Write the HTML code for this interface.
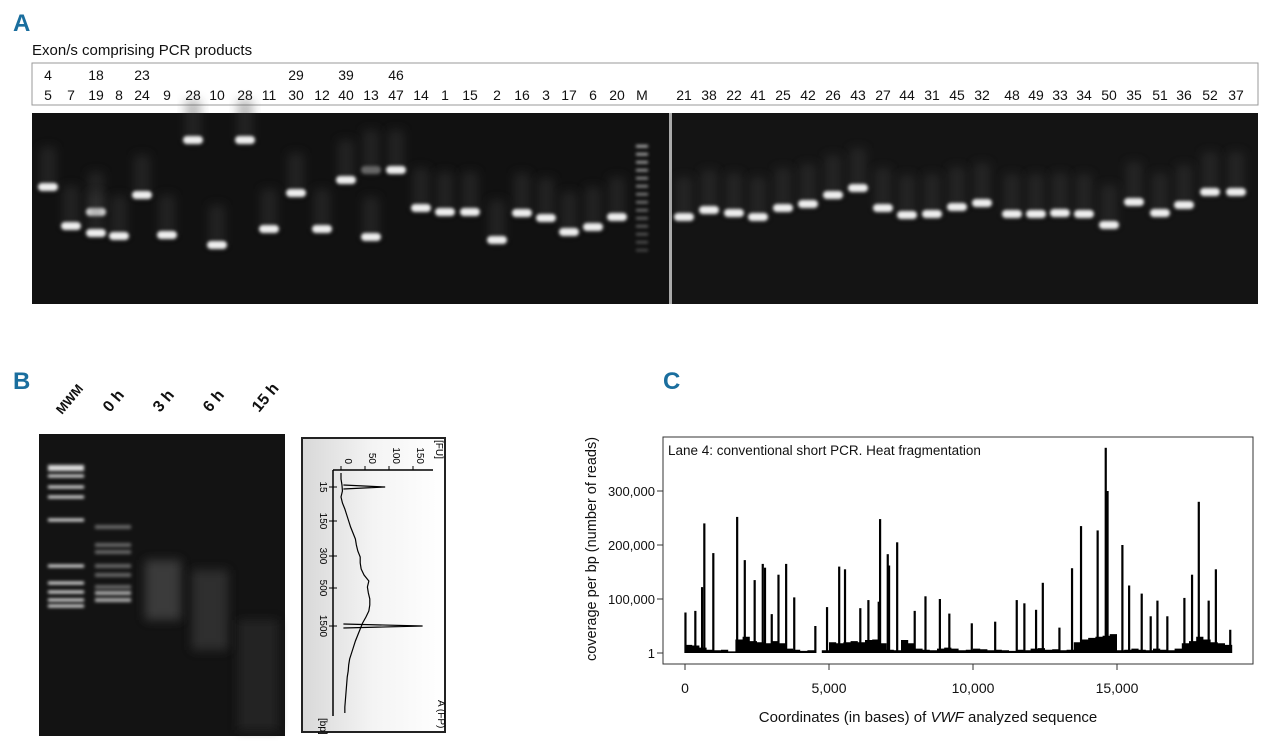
<!DOCTYPE html>
<html><head><meta charset="utf-8"><style>
body{margin:0;width:1280px;height:748px;background:#fff;overflow:hidden;font-family:"Liberation Sans",sans-serif}
svg{position:absolute;left:0;top:0}
</style></head><body>
<svg id="s" width="1280" height="748" viewBox="0 0 1280 748">
<defs>
<filter id="bl" x="-50%" y="-200%" width="200%" height="500%"><feGaussianBlur stdDeviation="1.6"/></filter>
<filter id="bl2" x="-50%" y="-50%" width="200%" height="200%"><feGaussianBlur stdDeviation="5"/></filter>
<linearGradient id="bag" x1="0" x2="1"><stop offset="0" stop-color="#d8d8d8"/><stop offset="0.5" stop-color="#f4f4f4"/><stop offset="1" stop-color="#fff"/></linearGradient>
</defs>
<text x="13" y="31" font-size="24" font-weight="bold" fill="#1a6e9e">A</text>
<text x="32" y="55" font-size="15" fill="#111">Exon/s comprising PCR products</text>
<rect x="32" y="63" width="1226" height="42" fill="#fff" stroke="#999"/>
<g id="lanelabels" font-size="14" fill="#111" text-anchor="middle"></g>
<rect x="32" y="113" width="637" height="191" fill="#111"/>
<rect x="669" y="113" width="3" height="191" fill="#aaa"/>
<rect x="672" y="113" width="586" height="191" fill="#141414"/>
<g id="bands"></g>

<text x="13" y="389" font-size="24" font-weight="bold" fill="#1a6e9e">B</text>
<g font-size="13" font-weight="bold" fill="#111">
<text transform="translate(62,415) rotate(-50)">MWM</text>
<text transform="translate(110,413) rotate(-50)" font-size="16">0 h</text>
<text transform="translate(160,413) rotate(-50)" font-size="16">3 h</text>
<text transform="translate(210,413) rotate(-50)" font-size="16">6 h</text>
<text transform="translate(259,413) rotate(-50)" font-size="16">15 h</text>
</g>
<rect x="39" y="434" width="246" height="302" fill="#131313"/>
<g id="bgel"></g>
<rect x="302" y="438" width="143" height="294" fill="url(#bag)" stroke="#222" stroke-width="2"/>
<g id="bio"></g>

<text x="663" y="389" font-size="24" font-weight="bold" fill="#1a6e9e">C</text>
<rect x="663" y="437" width="590" height="227" fill="#fff" stroke="#333"/>
<text x="668" y="455" font-size="13.5" fill="#111">Lane 4: conventional short PCR. Heat fragmentation</text>
<g id="cov"></g>
<g id="axes" font-size="13" fill="#111"></g>
<text transform="translate(596,549) rotate(-90)" text-anchor="middle" font-size="14.5" fill="#111">coverage per bp (number of reads)</text>
<text x="928" y="722" text-anchor="middle" font-size="15" fill="#111">Coordinates (in bases) of <tspan font-style="italic">VWF</tspan> analyzed sequence</text>
</svg>
<script>
const NS='http://www.w3.org/2000/svg';
function mk(p,t,a){const e=document.createElementNS(NS,t);for(const k in a)e.setAttribute(k,a[k]);p.appendChild(e);return e;}
// Panel A data
const laneTop=['4','','18','','23','','','','','','29','','39','','46','','','','','','','','','','','','','','','','','','','','','','','','','','','','','','','','',''];
const laneBot=['5','7','19','8','24','9','28','10','28','11','30','12','40','13','47','14','1','15','2','16','3','17','6','20','M','21','38','22','41','25','42','26','43','27','44','31','45','32','48','49','33','34','50','35','51','36','52','37'];
const laneX=[48,71,96,119,142,167,193,217,245,269,296,322,346,371,396,421,445,470,497,522,546,569,593,617,642,684,709,734,758,783,808,833,858,883,907,932,957,982,1012,1036,1060,1084,1109,1134,1160,1184,1210,1236];
const bandY=[[187],[226],[212,233],[236],[195],[235],[140],[245],[140],[229],[193],[229],[180],[237,170],[170],[208],[212],[212],[240],[213],[218],[232],[227],[217],null,[217],[210],[213],[217],[208],[204],[195],[188],[208],[215],[214],[207],[203],[214],[214],[213],[214],[225],[202],[213],[205],[192],[192]];
const ll=document.getElementById('lanelabels');
laneBot.forEach((l,i)=>{const t=mk(ll,'text',{x:laneX[i],y:100});t.textContent=l;
 
 if(laneTop[i]){const u=mk(ll,'text',{x:laneX[i],y:80});u.textContent=laneTop[i];}});
const bg=document.getElementById('bands');
bandY.forEach((ys,i)=>{const x=laneX[i];
 if(!ys){for(let k=0;k<14;k++){const r=mk(bg,'rect',{x:x-6,y:145+k*8,width:12,height:2.5,fill:'#bbb',filter:'url(#bl)',opacity:1-k*0.05});}return;}
 ys.forEach((y,j)=>{mk(bg,'rect',{x:x-8,y:y-40,width:16,height:40,fill:'#444',opacity:0.35,filter:'url(#bl2)'});
  const r=mk(bg,'rect',{x:x-10,y:y-4,width:20,height:8,rx:4,fill:(i===13&&j===1)?'#666':'#eee',filter:'url(#bl)'});
  });});
// Panel B gel
const mwmY=[468,476,487,497,520,566,583,592,600,606];
const h0Y=[527,545,552,566,575,587,593,600];
const gb=document.getElementById('bgel');
mwmY.forEach((y,i)=>{const r=mk(gb,'rect',{x:48,y:y-(i==0?3:1.5),width:36,height:i==0?6:3,fill:'#ddd',filter:'url(#bl)'});});
h0Y.forEach((y,i)=>{const r=mk(gb,'rect',{x:95,y:y-2,width:36,height:4,fill:i>5?'#aaa':'#666',filter:'url(#bl)'});});
mk(gb,'rect',{x:145,y:560,width:36,height:60,fill:'#444',filter:'url(#bl2)',opacity:0.8});
mk(gb,'rect',{x:192,y:570,width:36,height:80,fill:'#3a3a3a',filter:'url(#bl2)',opacity:0.7});
mk(gb,'rect',{x:238,y:620,width:40,height:110,fill:'#2c2c2c',filter:'url(#bl2)',opacity:0.7});
// Bioanalyzer
const bioFU=[0,0,2,3,0,3,8,12,16,20,25,30,32,35,40,40,42,48,58,55,57,60,60,58,52,45,40,35,30,26,22,18,16,15,13,12,11,10,9,8,8];
const bioSpikes=[[487,92],[626,170]];
const fuX=v=>341+v*0.48, bioTop=473, bioStep=6;
const bio=document.getElementById('bio');
mk(bio,'line',{x1:333,y1:470,x2:333,y2:716,stroke:'#000','stroke-width':1.5});
mk(bio,'line',{x1:333,y1:470,x2:433,y2:470,stroke:'#000','stroke-width':1.5});
[0,50,100,150].forEach(v=>{mk(bio,'line',{x1:fuX(v),y1:466,x2:fuX(v),y2:470,stroke:'#000'});const t=mk(bio,'text',{transform:`translate(${fuX(v)+4},464) rotate(90)`,'font-size':10,'text-anchor':'end'});t.textContent=v;});
[['15',487],['150',521],['300',556],['500',588],['1500',626]].forEach(([l,y])=>{mk(bio,'line',{x1:329,y1:y,x2:337,y2:y,stroke:'#000'});const t=mk(bio,'text',{transform:`translate(320,${y}) rotate(90)`,'font-size':10,'text-anchor':'middle'});t.textContent=l;});
[['[FU]',436,440],['[bp]',320,718],['A (FP)',438,700]].forEach(([l,x,y])=>{const t=mk(bio,'text',{transform:`translate(${x},${y}) rotate(90)`,'font-size':10});t.textContent=l;});
let pts=bioFU.map((v,i)=>[fuX(v),bioTop+i*bioStep]);
mk(bio,'path',{d:'M'+pts.map(p=>p.join(',')).join('L'),fill:'none',stroke:'#000','stroke-width':1.2});
bioSpikes.forEach(([y,v])=>{const p=mk(bio,'path',{d:`M${fuX(5)},${y-2}L${fuX(v)},${y}L${fuX(5)},${y+2}`,fill:'none',stroke:'#000','stroke-width':1.2});});
// Panel C data
const peakPos=[16,359,593,671,983,1811,2076,2419,2700,2778,3012,3246,3512,3793,4526,4932,5354,5556,6087,6368,6727,6774,7040,7086,7367,7976,8350,8850,9178,9958,10770,11519,11784,12190,12424,13001,13439,13751,14328,14609,14672,15187,15421,15858,16170,16404,16748,17340,17606,17840,18183,18433,18932];
const peakVal=[75000,78000,122000,240000,185000,252000,172000,135000,165000,158000,72000,145000,165000,103000,50000,85000,160000,155000,83000,98000,95000,248000,183000,162000,205000,78000,105000,100000,73000,55000,58000,98000,92000,80000,130000,47000,157000,235000,227000,380000,300000,200000,125000,110000,68000,97000,68000,102000,145000,280000,97000,155000,43000];
const baseLevel=[15000,14000,10000,6000,5000,6000,3000,25000,30000,22000,20000,18000,22000,18000,8000,6000,4000,5000,0,5000,20000,18000,20000,22000,20000,24000,25000,18000,6000,5000,24000,18000,8000,6000,5000,8000,10000,8000,5000,6000,8000,7000,5000,6000,5000,4000,6000,5000,8000,9000,6000,7000,5000,6000,20000,25000,28000,30000,32000,35000,5000,6000,8000,6000,5000,8000,6000,5000,8000,18000,22000,30000,25000,20000,18000,15000];
const binSize=250;
const xTicks=[0,5000,10000,15000], xTickLab=['0','5,000','10,000','15,000'];
const yTicks=[1,100000,200000,300000], yTickLab=['1','100,000','200,000','300,000'];
const X=b=>685+b*0.0288, Y=v=>653-v*0.00054;
const cov=document.getElementById('cov');
let bd=`M${X(0)},${Y(0)}`;
baseLevel.forEach((v,i)=>{bd+=`L${X(i*binSize)},${Y(v)}L${X((i+1)*binSize)},${Y(v)}`;});
bd+=`L${X(baseLevel.length*binSize)},${Y(0)}Z`;
const ba=mk(cov,'path',{d:bd,fill:'#000'});
peakPos.forEach((p,i)=>{const r=mk(cov,'rect',{x:X(p)-1.1,y:Y(peakVal[i]),width:2.2,height:Y(0)-Y(peakVal[i]),fill:'#000'});
 });
const ax=document.getElementById('axes');
xTicks.forEach((v,i)=>{mk(ax,'line',{x1:X(v),y1:664,x2:X(v),y2:670,stroke:'#333'});const t=mk(ax,'text',{x:X(v),y:693,'text-anchor':'middle','font-size':14});t.textContent=xTickLab[i];});
yTicks.forEach((v,i)=>{mk(ax,'line',{x1:657,y1:Y(v),x2:663,y2:Y(v),stroke:'#333'});const t=mk(ax,'text',{x:655,y:Y(v)+5,'text-anchor':'end'});t.textContent=yTickLab[i];});
</script>
</body></html>
